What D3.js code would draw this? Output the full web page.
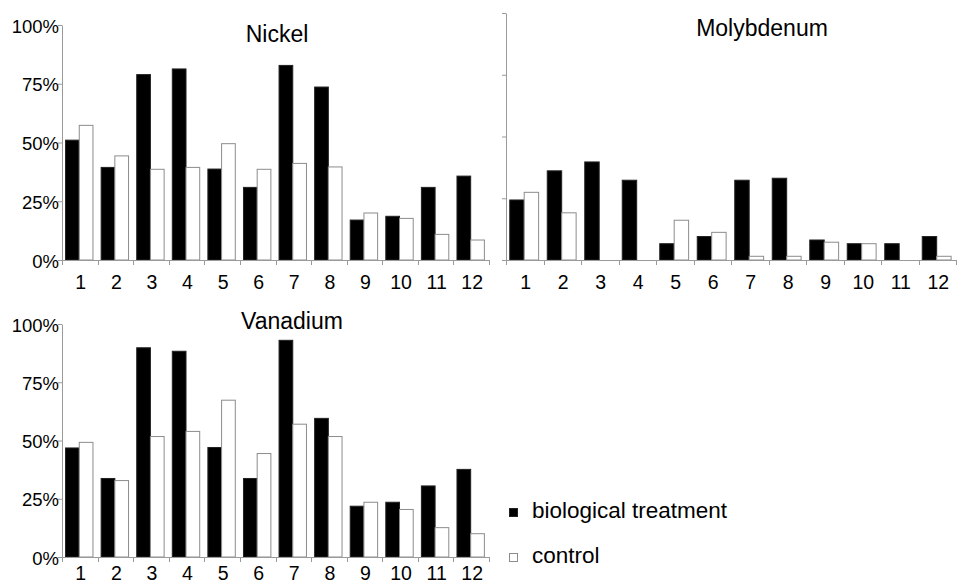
<!DOCTYPE html>
<html>
<head>
<meta charset="utf-8">
<script src="https://cdn.jsdelivr.net/npm/d3@7"></script>
<style>
  body { margin: 0; background: #fff; }
  svg { display: block; font-family: "Liberation Sans", Arial, sans-serif; }
</style>
</head>
<body>
<svg id="chart" width="958" height="586"></svg>
<script>
// data
var categories = ['1', '2', '3', '4', '5', '6', '7', '8', '9', '10', '11', '12'];
var yTicks = [0, 0.25, 0.5, 0.75, 1];
var seriesNames = ['biological treatment', 'control'];

var nickelTreat = [0.51, 0.394, 0.789, 0.813, 0.387, 0.309, 0.828, 0.736, 0.17, 0.186, 0.309, 0.357];
var nickelCtrl  = [0.573, 0.443, 0.386, 0.394, 0.495, 0.386, 0.411, 0.396, 0.2, 0.177, 0.109, 0.085];

var molyTreat = [0.243, 0.361, 0.397, 0.323, 0.066, 0.095, 0.323, 0.331, 0.081, 0.066, 0.066, 0.095];
var molyCtrl  = [0.274, 0.191, 0, 0, 0.161, 0.112, 0.015, 0.015, 0.072, 0.066, 0, 0.015];

var vanTreat = [0.468, 0.337, 0.898, 0.883, 0.47, 0.337, 0.93, 0.595, 0.218, 0.235, 0.305, 0.376];
var vanCtrl  = [0.492, 0.328, 0.517, 0.539, 0.673, 0.444, 0.57, 0.517, 0.235, 0.204, 0.126, 0.1];

var colours = ['#000000', '#ffffff'];
var strokes = ['#222222', '#8c8c8c'];
var axisGrey = '#9a9a9a';

var svg = d3.select('#chart');

var panels = [
  { title: 'Nickel', treat: nickelTreat, ctrl: nickelCtrl, left: 62, right: 489, top: 25, bottom: 260, labels: true, titleX: 277, titleY: 42, labelY: 289 },
  { title: 'Molybdenum', treat: molyTreat, ctrl: molyCtrl, left: 506, right: 956, top: 13, bottom: 260, labels: false, titleX: 762, titleY: 36, labelY: 289 },
  { title: 'Vanadium', treat: vanTreat, ctrl: vanCtrl, left: 62, right: 489, top: 324, bottom: 557, labels: true, titleX: 292, titleY: 329, labelY: 580 }
];

panels.forEach(function(p) {
  var g = svg.append('g');

  var x = d3.scaleBand()
      .domain(categories)
      .range([p.left, p.right]);

  var y = d3.scaleLinear()
      .domain([0, 1])
      .range([p.bottom, p.top]);

  var bw = x.bandwidth();
  var barW = bw * 0.385;

  var rows = categories.map(function(c, i) {
    return [
      { cat: c, value: p.treat[i], s: 0 },
      { cat: c, value: p.ctrl[i], s: 1 }
    ];
  });

  g.selectAll('.bar')
      .data(d3.merge(rows).filter(function(d) { return d.value > 0; }))
    .enter().append('rect')
      .attr('class', 'bar')
      .attr('x', function(d) { return x(d.cat) + bw * 0.1 + d.s * barW; })
      .attr('y', function(d) { return y(d.value); })
      .attr('width', barW)
      .attr('height', function(d) { return p.bottom - y(d.value); })
      .style('fill', function(d) { return colours[d.s]; })
      .style('stroke', function(d) { return strokes[d.s]; })
      .style('stroke-width', 1);

  // y axis
  var yAxis = d3.axisLeft(y)
      .tickValues(yTicks)
      .tickSizeInner(4)
      .tickSizeOuter(0)
      .tickPadding(p.labels ? -1 : 0)
      .tickFormat(p.labels ? d3.format('.0%') : '');

  var ya = g.append('g')
      .attr('transform', 'translate(' + p.left + ',0)')
      .call(yAxis);
  ya.selectAll('path, line').attr('stroke', axisGrey);
  ya.selectAll('text')
      .attr('fill', '#000')
      .attr('dy', '0.38em')
      .style('font-size', '18.5px');

  // x axis: ticks on band edges
  var edges = categories.map(function(c) { return x(c); }).concat([p.right]);
  g.append('line')
      .attr('x1', p.left).attr('x2', p.right)
      .attr('y1', p.bottom + 0.5).attr('y2', p.bottom + 0.5)
      .attr('stroke', axisGrey);
  g.selectAll('.xtick')
      .data(edges)
    .enter().append('line')
      .attr('class', 'xtick')
      .attr('x1', function(d) { return Math.round(d) + 0.5; })
      .attr('x2', function(d) { return Math.round(d) + 0.5; })
      .attr('y1', p.bottom)
      .attr('y2', p.bottom + 5)
      .attr('stroke', axisGrey);
  g.selectAll('.xlabel')
      .data(categories)
    .enter().append('text')
      .attr('class', 'xlabel')
      .attr('x', function(d) { return x(d) + bw / 2 + 1; })
      .attr('y', p.labelY)
      .attr('text-anchor', 'middle')
      .style('font-size', '19.5px')
      .text(function(d) { return d; });

  g.append('text')
      .attr('x', p.titleX)
      .attr('y', p.titleY)
      .attr('text-anchor', 'middle')
      .style('font-size', '23px')
      .text(p.title);
});

// legend
var legend = svg.append('g').attr('transform', 'translate(509,508)');
var item = legend.selectAll('.item')
    .data(seriesNames)
  .enter().append('g')
    .attr('transform', function(d, i) { return 'translate(0,' + (i * 45) + ')'; });
item.append('rect')
    .attr('x', 0.5).attr('y', 0.5)
    .attr('width', 8).attr('height', 8)
    .style('fill', function(d, i) { return colours[i]; })
    .style('stroke', function(d, i) { return strokes[i]; });
item.append('text')
    .attr('x', 23)
    .attr('y', 9.5)
    .style('font-size', '22.5px')
    .text(function(d) { return d; });
</script>
</body>
</html>
